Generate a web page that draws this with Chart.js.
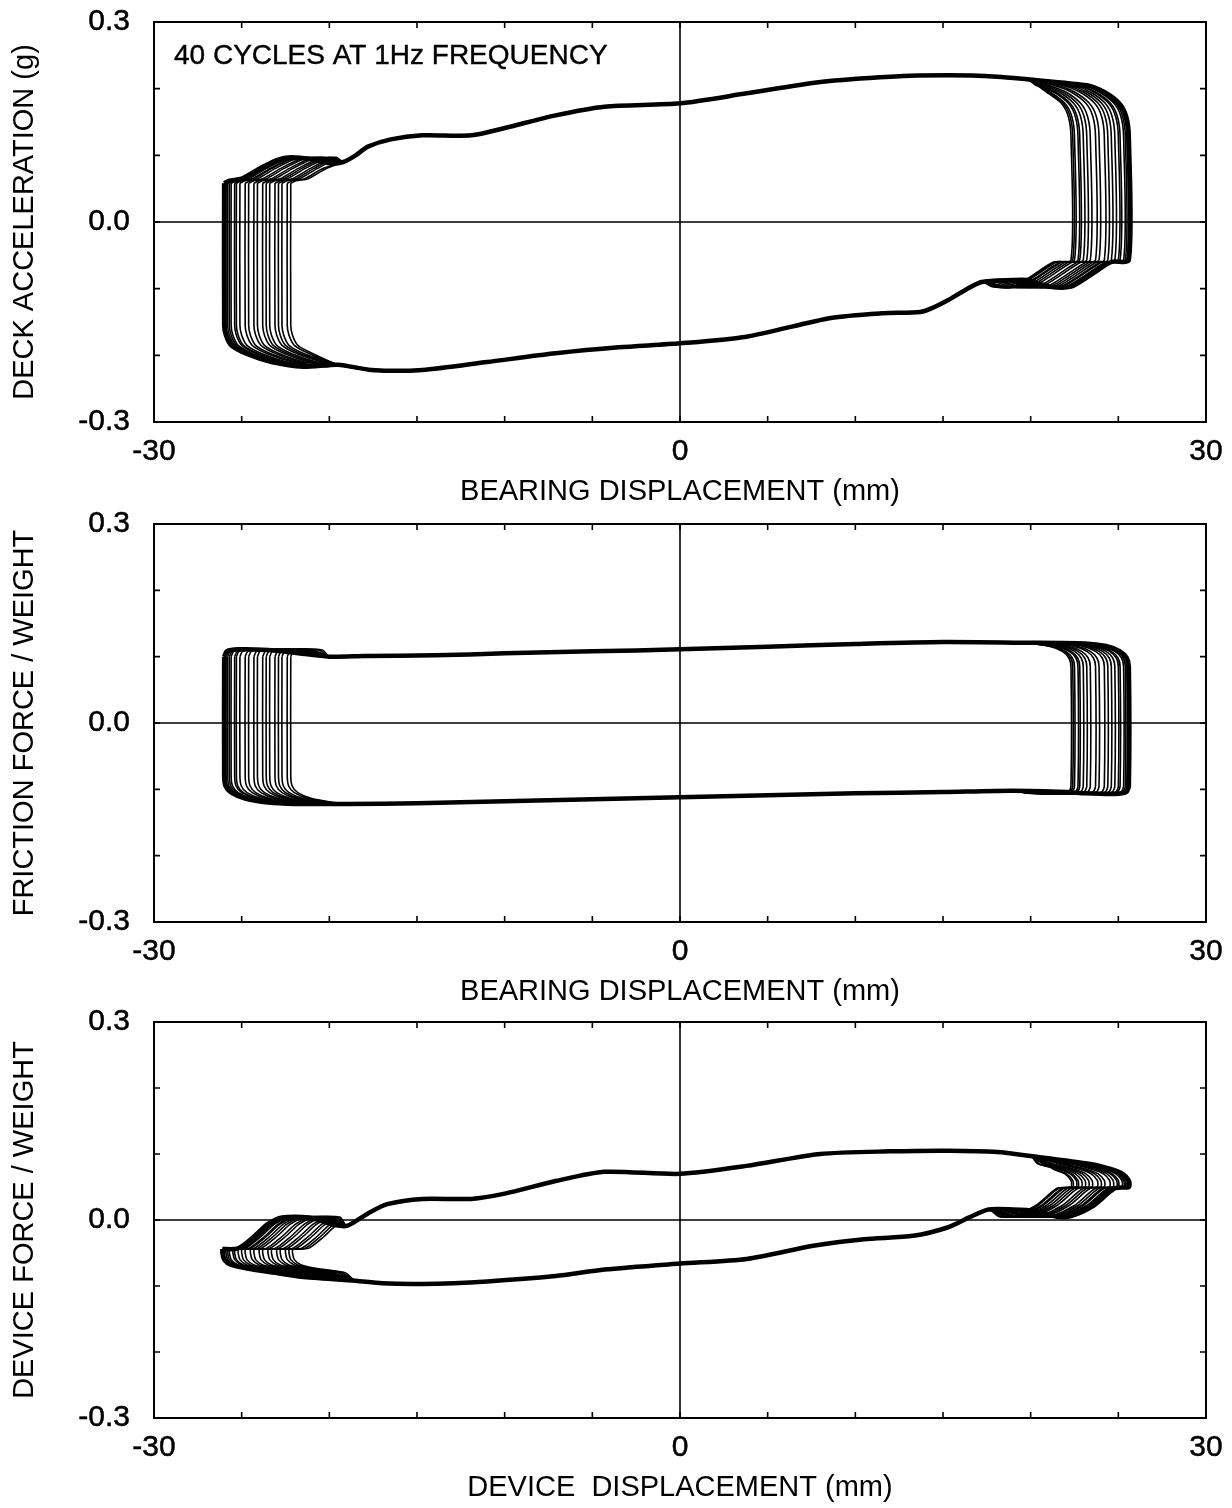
<!DOCTYPE html>
<html>
<head>
<meta charset="utf-8">
<script src="https://cdn.jsdelivr.net/npm/chart.js@4.4.1/dist/chart.umd.min.js"></script>
<style>
  body { margin: 0; background: #fff; overflow: hidden; }
  #wrap { position: relative; width: 1232px; height: 1508px; overflow: hidden; }
  #wrap canvas { position: absolute; left: 0; }
</style>
</head>
<body>
<div id="wrap">
  <canvas id="accChart" width="1240" height="534" style="top:-22px"></canvas>
  <canvas id="fricChart" width="1240" height="532" style="top:480px"></canvas>
  <canvas id="devChart" width="1240" height="530" style="top:978px"></canvas>
</div>
<script>
// reversal displacements (mm) of the drawn cycles, outer cycles first
const bearingLeftTurn  = [-26.0, -26.0, -25.9, -25.9, -25.8, -25.7, -25.6, -25.4, -25.3, -25.1, -24.8, -24.6, -24.3, -24.1, -23.8, -23.6, -23.4, -23.1, -22.9, -22.7, -22.4, -22.2];
const bearingRightTurn = [25.6, 25.6, 25.5, 25.5, 25.4, 25.3, 25.1, 25.0, 24.8, 24.6, 24.4, 24.2, 23.9, 23.7, 23.4, 23.2, 23.0, 22.8, 22.7, 22.5, 22.4, 22.3];
const deviceLeftTurn   = [-26.1, -26.1, -26.0, -25.9, -25.8, -25.7, -25.5, -25.4, -25.2, -25.0, -24.8, -24.5, -24.3, -24.0, -23.8, -23.5, -23.3, -23.0, -22.8, -22.5, -22.3, -22.1];
const deviceRightTurn  = [25.6, 25.6, 25.5, 25.4, 25.4, 25.3, 25.2, 25.0, 24.9, 24.7, 24.5, 24.2, 24.0, 23.8, 23.5, 23.3, 23.1, 22.9, 22.7, 22.6, 22.4, 22.3];

// deck acceleration (g): branch parts near a reversal are [mm from reversal, g],
// the shared parts are [mm, g]
const accUpLeft  = [[0, 0.058], [0.3, 0.062], [1.0, 0.065], [2.0, 0.080], [3.0, 0.093], [3.8, 0.097], [5.0, 0.094], [6.0, 0.088]];
const accUpper   = [[-19.2, 0.090], [-18.5, 0.100], [-17.8, 0.113], [-16.5, 0.124], [-14.7, 0.130], [-11.9, 0.130], [-10.0, 0.141], [-7.1, 0.160], [-4.3, 0.173], [0, 0.178], [3.8, 0.193], [8.0, 0.210], [12.0, 0.218], [15.3, 0.220], [18.1, 0.218], [19.8, 0.214]];
const accUpRight = [[-2.4, 0.205], [-1.4, 0.195], [-0.55, 0.178], [-0.15, 0.158], [0, 0.128]];
const accLoRight = [[0, -0.057], [-1.0, -0.060], [-2.2, -0.080], [-3.3, -0.097], [-4.5, -0.097], [-5.8, -0.087], [-6.6, -0.087]];
const accLower   = [[17.2, -0.090], [16.2, -0.103], [15.3, -0.117], [14.3, -0.130], [13.7, -0.135], [11.5, -0.137], [8.6, -0.144], [3.8, -0.172], [0, -0.182], [-3.5, -0.188], [-7.1, -0.197], [-11.0, -0.210], [-14.7, -0.222], [-17.6, -0.222], [-19.5, -0.214]];
const accLoLeft  = [[4.5, -0.217], [2.7, -0.210], [1.3, -0.198], [0.4, -0.185], [0.1, -0.170], [0, -0.155]];

// friction force / weight
const fricUpLeft  = [[0, 0.100], [0.15, 0.108], [0.8, 0.111], [2.5, 0.110], [4.0, 0.106]];
const fricUpper   = [[-20.0, 0.100], [-18.0, 0.101], [-14.0, 0.102], [-10.0, 0.105], [-5.0, 0.108], [0, 0.111], [5.0, 0.115], [10.0, 0.119], [15.0, 0.122], [19.5, 0.121]];
const fricUpRight = [[-2.5, 0.120], [-1.3, 0.116], [-0.5, 0.108], [-0.12, 0.098], [0, 0.085]];
const fricLoRight = [[0, -0.095], [-0.15, -0.104], [-0.8, -0.107], [-2.5, -0.106], [-3.5, -0.104]];
const fricLower   = [[19.0, -0.102], [15.0, -0.104], [10.0, -0.106], [5.0, -0.109], [0, -0.112], [-5.0, -0.115], [-10.0, -0.118], [-15.0, -0.121], [-19.0, -0.122]];
const fricLoLeft  = [[4.0, -0.122], [2.5, -0.120], [1.2, -0.114], [0.4, -0.105], [0.08, -0.095], [0, -0.080]];

// device force / weight
const devUpLeft  = [[0, -0.044], [0.9, -0.043], [1.8, -0.025], [2.6, -0.006], [3.4, 0.004], [4.9, 0.004], [6.3, -0.007]];
const devUpper   = [[-19.0, -0.009], [-17.8, 0.010], [-16.7, 0.024], [-14.7, 0.032], [-11.9, 0.032], [-10.0, 0.040], [-7.1, 0.059], [-4.3, 0.073], [0, 0.070], [3.8, 0.082], [8.0, 0.100], [12.0, 0.104], [15.3, 0.105], [18.1, 0.103], [20.0, 0.097]];
const devUpRight = [[-2.2, 0.085], [-1.0, 0.077], [-0.35, 0.070], [0, 0.060]];
const devLoRight = [[0, 0.050], [-0.8, 0.048], [-2.0, 0.022], [-3.3, 0.006], [-4.1, 0.005], [-5.4, 0.014], [-6.6, 0.016]];
const devLower   = [[17.6, 0.016], [16.5, 0.004], [15.3, -0.011], [13.3, -0.024], [10.5, -0.029], [7.6, -0.039], [3.8, -0.059], [0, -0.066], [-4.3, -0.075], [-7.1, -0.085], [-11.0, -0.093], [-14.7, -0.097], [-17.0, -0.096], [-18.5, -0.092]];
const devLoLeft  = [[4.5, -0.086], [3.0, -0.080], [1.5, -0.074], [0.5, -0.068], [0.1, -0.060], [0, -0.050]];

const xTicks = [-30, 0, 30];
const yTicks = [-0.3, 0.0, 0.3];

// one closed loop: up the left reversal, along the upper branch, down the
// right reversal and back along the lower branch
function buildLoop(xL, xR, upLeft, upper, upRight, loRight, lower, loLeft) {
  const pts = [];
  const upStart = upper[0][0], upEnd = upper[upper.length - 1][0];
  const loStart = lower[0][0], loEnd = lower[lower.length - 1][0];
  upLeft.forEach(([dx, y]) => { if (dx === 0 || xL + dx < upStart - 0.3) pts.push({ x: xL + dx, y }); });
  upper.forEach(([x, y]) => pts.push({ x, y }));
  upRight.forEach(([dx, y]) => { if (dx === 0 || xR + dx > upEnd + 0.3) pts.push({ x: xR + dx, y }); });
  loRight.forEach(([dx, y]) => { if (dx === 0 || xR + dx > loStart + 0.3) pts.push({ x: xR + dx, y }); });
  lower.forEach(([x, y]) => pts.push({ x, y }));
  loLeft.forEach(([dx, y]) => { if (dx === 0 || xL + dx < loEnd - 0.3) pts.push({ x: xL + dx, y }); });
  pts.push({ ...pts[0] });
  return pts;
}

// box, zero lines, inward tick marks and the note
const framePlugin = {
  id: 'frame',
  beforeDatasetsDraw(chart) {
    const { ctx, chartArea: a, scales: { x, y } } = chart;
    const x0 = x.getPixelForValue(0), y0 = y.getPixelForValue(0);
    ctx.save();
    ctx.strokeStyle = '#000';
    ctx.lineWidth = 1.6;
    ctx.beginPath();
    ctx.moveTo(x0, a.top); ctx.lineTo(x0, a.bottom);
    ctx.moveTo(a.left, y0); ctx.lineTo(a.right, y0);
    ctx.stroke();
    ctx.restore();
  },
  afterDraw(chart, args, opts) {
    const { ctx, chartArea: a, scales: { x, y } } = chart;
    ctx.save();
    ctx.strokeStyle = '#000';
    ctx.lineWidth = 2;
    ctx.strokeRect(a.left, a.top, a.right - a.left, a.bottom - a.top);
    ctx.lineWidth = 1.6;
    ctx.beginPath();
    x.ticks.forEach(t => {
      const px = x.getPixelForValue(t.value);
      ctx.moveTo(px, a.bottom); ctx.lineTo(px, a.bottom - 6);
      ctx.moveTo(px, a.top); ctx.lineTo(px, a.top + 6);
    });
    y.ticks.forEach(t => {
      const py = y.getPixelForValue(t.value);
      ctx.moveTo(a.left, py); ctx.lineTo(a.left + 6, py);
      ctx.moveTo(a.right, py); ctx.lineTo(a.right - 6, py);
    });
    ctx.stroke();
    if (opts.note) {
      ctx.fillStyle = '#000';
      ctx.strokeStyle = '#000';
      ctx.lineWidth = 0.4;
      ctx.font = '28px "Liberation Sans", Arial, sans-serif';
      ctx.textBaseline = 'middle';
      ctx.fillText(opts.note, a.left + 20, a.top + 34);
      ctx.strokeText(opts.note, a.left + 20, a.top + 34);
    }
    ctx.restore();
  }
};

function makePanel(id, yTitle, xTitle, leftTurn, rightTurn, parts, note) {
  // the outermost cycle is repeated most often, so it carries the heavy stroke
  const datasets = leftTurn.map((xL, i) => ({
    data: buildLoop(xL, rightTurn[i], ...parts),
    borderColor: '#000',
    borderWidth: i === 0 ? 4.5 : 1.6,
    pointRadius: 0,
    showLine: true,
    tension: 0.25,
    fill: false
  }));
  const family = '"Liberation Sans", Arial, sans-serif';
  return new Chart(document.getElementById(id), {
    type: 'scatter',
    data: { datasets },
    plugins: [framePlugin],
    options: {
      responsive: false,
      animation: false,
      devicePixelRatio: 1,
      layout: { padding: { top: 44, right: 34, left: 0, bottom: 0 } },
      plugins: { legend: { display: false }, tooltip: { enabled: false }, frame: { note } },
      scales: {
        x: {
          type: 'linear', min: -30, max: 30,
          grid: { display: false, drawTicks: false }, border: { display: false },
          ticks: {
            stepSize: 5, autoSkip: false, maxRotation: 0, padding: 12, color: '#000',
            textStrokeColor: '#000', textStrokeWidth: 0.5,
            font: { family, size: 30 },
            callback: v => xTicks.includes(v) ? String(v) : ''
          },
          title: { display: true, text: xTitle, color: '#000', font: { family, size: 29 }, padding: { top: 0, bottom: 3 } },
          afterFit: s => { s.height = 90; }
        },
        y: {
          type: 'linear', min: -0.3, max: 0.3,
          grid: { display: false, drawTicks: false }, border: { display: false },
          ticks: {
            stepSize: 0.1, autoSkip: false, padding: 24, color: '#000',
            textStrokeColor: '#000', textStrokeWidth: 0.5,
            font: { family, size: 30 },
            callback: v => {
              const hit = yTicks.find(t => Math.abs(t - v) < 1e-6);
              return hit === undefined ? '' : hit.toFixed(1);
            }
          },
          title: { display: true, text: yTitle, color: '#000', font: { family, size: 29 }, padding: { top: 8, bottom: 0 } },
          afterFit: s => { s.width = 154; }
        }
      }
    }
  });
}

makePanel('accChart', 'DECK ACCELERATION (g)', 'BEARING DISPLACEMENT (mm)',
  bearingLeftTurn, bearingRightTurn,
  [accUpLeft, accUpper, accUpRight, accLoRight, accLower, accLoLeft],
  '40 CYCLES AT 1Hz FREQUENCY');

makePanel('fricChart', 'FRICTION FORCE / WEIGHT', 'BEARING DISPLACEMENT (mm)',
  bearingLeftTurn, bearingRightTurn,
  [fricUpLeft, fricUpper, fricUpRight, fricLoRight, fricLower, fricLoLeft]);

makePanel('devChart', 'DEVICE FORCE / WEIGHT', 'DEVICE  DISPLACEMENT (mm)',
  deviceLeftTurn, deviceRightTurn,
  [devUpLeft, devUpper, devUpRight, devLoRight, devLower, devLoLeft]);
</script>
</body>
</html>
